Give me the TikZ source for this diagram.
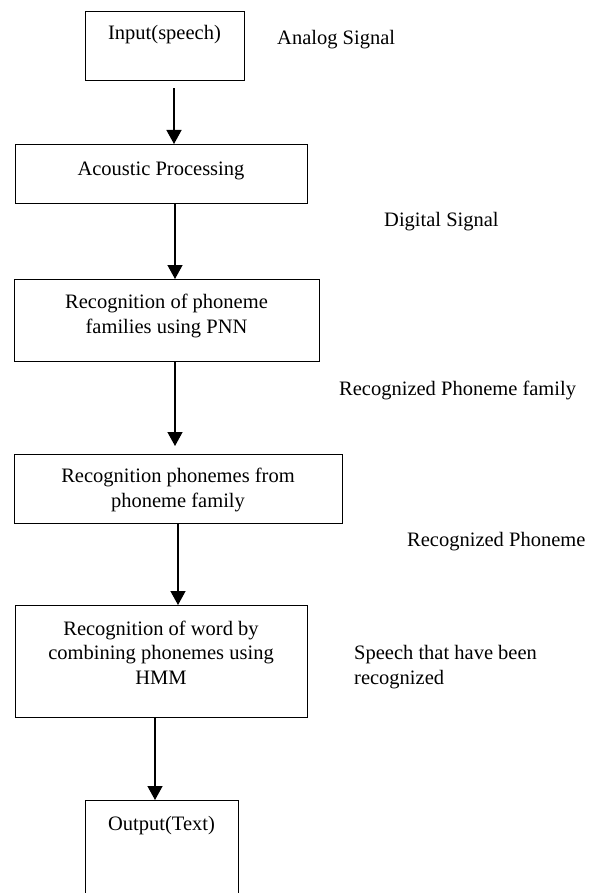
\documentclass[tikz,border=0pt]{standalone}
\usepackage{fontspec}
\setmainfont{Liberation Serif}
\usetikzlibrary{arrows.meta}
\begin{document}
\begin{tikzpicture}[x=1pt,y=-1pt,
  box/.style={draw,line width=1.4pt,rectangle,inner sep=0pt,anchor=north west},
  txt/.style={font=\fontsize{20.5}{24.5}\selectfont,align=center,anchor=base,inner sep=0pt},
  side/.style={font=\fontsize{20.5}{24.5}\selectfont,align=left,anchor=base west,inner sep=0pt},
  arr/.style={line width=1.4pt,-{Triangle[width=15pt,length=14pt]}}]
\clip (0,0) rectangle (598,893);
\fill[white] (0,0) rectangle (598,893);
% boxes
\node[box,minimum width=159pt,minimum height=69pt] (b1) at (85,11) {};
\node[box,minimum width=292pt,minimum height=59pt] (b2) at (15,144) {};
\node[box,minimum width=305pt,minimum height=82pt] (b3) at (14,279) {};
\node[box,minimum width=328pt,minimum height=69pt] (b4) at (14,454) {};
\node[box,minimum width=292pt,minimum height=112pt] (b5) at (15,605) {};
\node[box,minimum width=153pt,minimum height=120pt] (b6) at (85,800) {};
% texts in boxes (base = baseline of last line)
\node[txt] (t1) at (164.5,40) {Input(speech)};
\node[txt] (t2) at (161,176) {Acoustic Processing};
\node[txt] (t3) at (166.5,333) {Recognition of phoneme\\families using PNN};
\node[txt] (t4) at (178,507) {Recognition phonemes from\\phoneme family};
\node[txt] (t5) at (161,684) {Recognition of word by\\combining phonemes using\\HMM};
\node[txt] (t6) at (161.5,830) {Output(Text)};
% side labels
\node[side] (s1) at (277,45) {Analog Signal};
\node[side] (s2) at (384,226) {Digital Signal};
\node[side] (s3) at (339,395) {Recognized Phoneme family};
\node[side] (s4) at (407,546) {Recognized Phoneme};
\node[side] (s5) at (354,684) {Speech that have been\\recognized};
% arrow columns
\coordinate (c1) at (174,0);
\coordinate (c2) at (175,0);
\coordinate (c3) at (175,0);
\coordinate (c4) at (178,0);
\coordinate (c5) at (155,0);
\draw[arr,shorten <=7pt] (b1.south -| c1) -- (b2.north -| c1);
\draw[arr] (b2.south -| c2) -- (b3.north -| c2);
\draw[arr,shorten >=8pt] (b3.south -| c3) -- (b4.north -| c3);
\draw[arr] (b4.south -| c4) -- (b5.north -| c4);
\draw[arr] (b5.south -| c5) -- (b6.north -| c5);
\end{tikzpicture}
\end{document}
